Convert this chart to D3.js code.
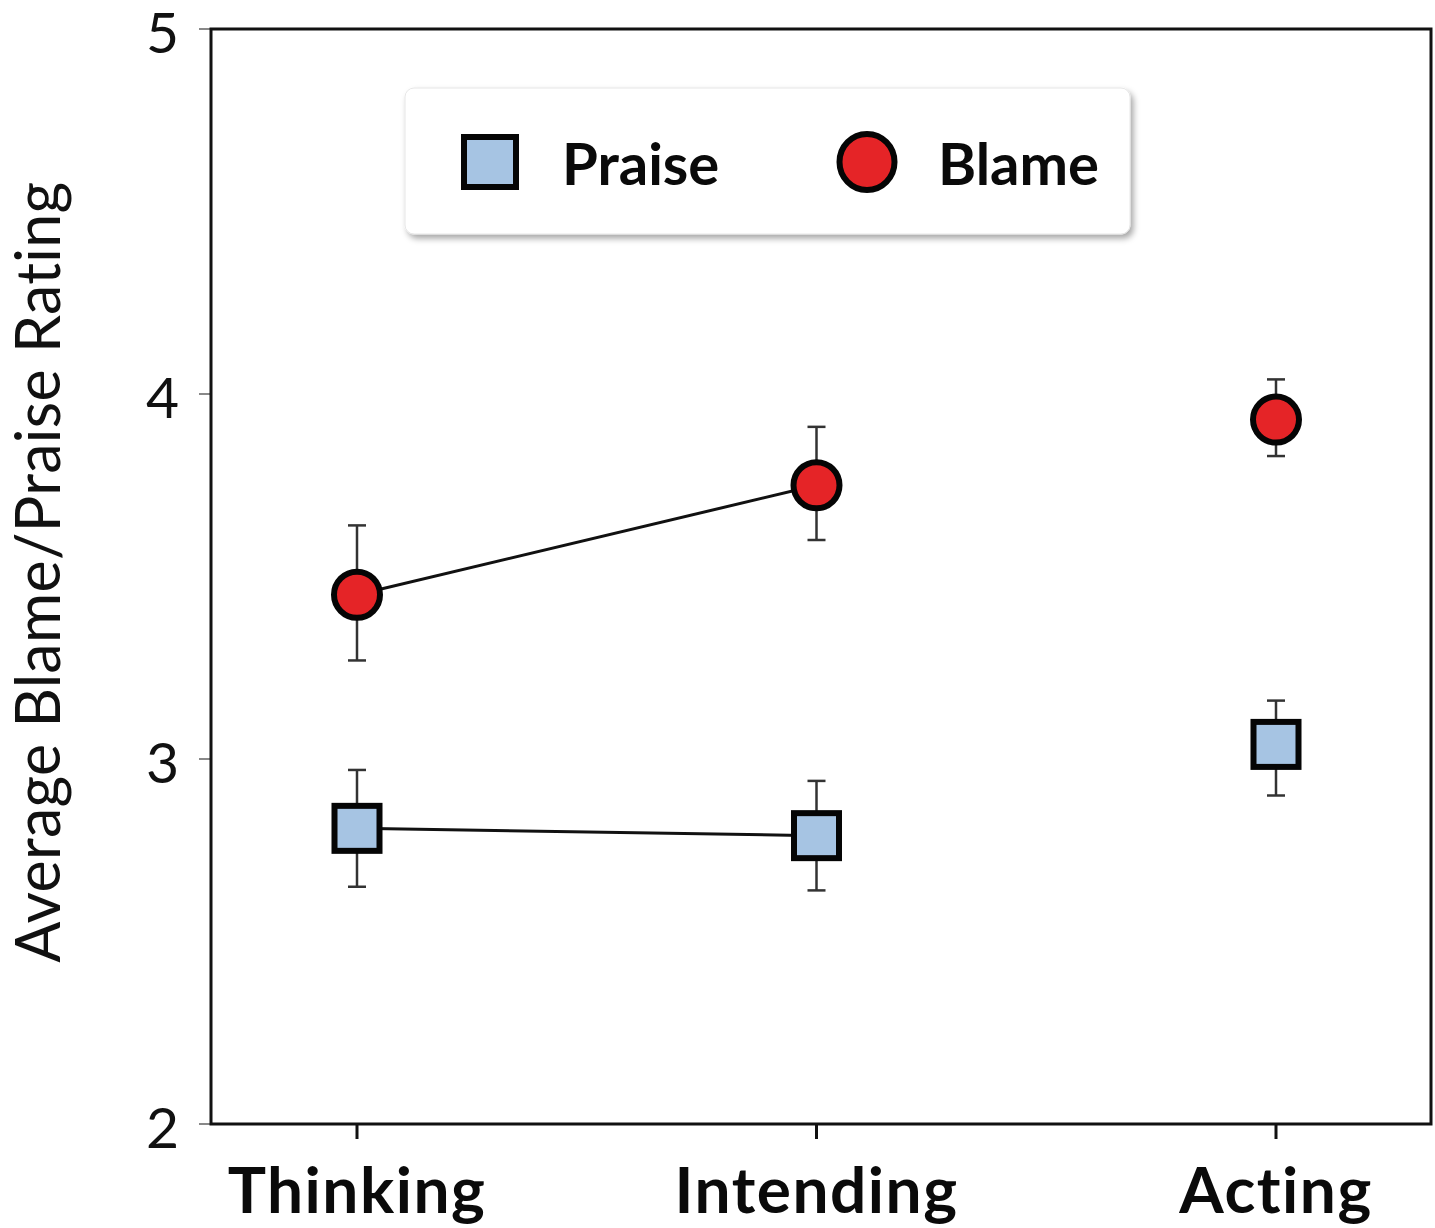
<!DOCTYPE html>
<html>
<head>
<meta charset="utf-8">
<script src="https://cdn.jsdelivr.net/npm/d3@7/dist/d3.min.js"></script>
<style>
  html, body { margin: 0; padding: 0; background: #fff; }
  svg { display: block; }
</style>
</head>
<body>
<svg id="chart" width="1435" height="1228"></svg>
<script>
// Stages of moral action
const categories = ["Thinking", "Intending", "Acting"];

// Mean ratings per stage
const praiseMean = [2.81, 2.79, 3.04];
const blameMean  = [3.45, 3.75, 3.93];

// Error bar bounds (lower, upper)
const praiseLow  = [2.65, 2.64, 2.90];
const praiseHigh = [2.97, 2.94, 3.16];
const blameLow   = [3.27, 3.60, 3.83];
const blameHigh  = [3.64, 3.91, 4.04];

// Which consecutive stages are joined by a line
const connected = ["Thinking", "Intending"];

const yTicks = [2, 3, 4, 5];
const seriesNames = ["Praise", "Blame"];

const svg = d3.select("#chart");
const plot = { left: 211, right: 1431, top: 29, bottom: 1124 };

const x = d3.scalePoint()
  .domain(categories)
  .range([357, 1276]);

const y = d3.scaleLinear()
  .domain([2, 5])
  .range([plot.bottom, plot.top]);

const labelFont = "Lato, 'Open Sans', sans-serif";

// Y axis ticks (thin gray) and labels
const yAxis = svg.append("g");
yAxis.selectAll("line").data(yTicks).join("line")
  .attr("x1", plot.left - 12).attr("x2", plot.left)
  .attr("y1", d => y(d)).attr("y2", d => y(d))
  .attr("stroke", "#888").attr("stroke-width", 2);
yAxis.selectAll("text").data(yTicks).join("text")
  .attr("x", 179)
  .attr("y", d => y(d))
  .attr("dy", "0.42em")
  .attr("text-anchor", "end")
  .attr("font-family", labelFont)
  .attr("font-size", 57)
  .attr("fill", "#111")
  .text(d => d);

// X axis ticks and category labels
const xAxis = svg.append("g");
xAxis.selectAll("line").data(categories).join("line")
  .attr("x1", d => x(d)).attr("x2", d => x(d))
  .attr("y1", plot.bottom).attr("y2", plot.bottom + 15)
  .attr("stroke", "#111").attr("stroke-width", 3);
xAxis.selectAll("text").data(categories).join("text")
  .attr("x", d => x(d))
  .attr("y", 1213)
  .attr("text-anchor", "middle")
  .attr("font-family", labelFont)
  .attr("font-weight", 700)
  .attr("font-size", 64)
  .attr("letter-spacing", 1.5)
  .attr("fill", "#0a0a0a")
  .text(d => d);

// Plot frame
svg.append("rect")
  .attr("x", plot.left).attr("y", plot.top)
  .attr("width", plot.right - plot.left)
  .attr("height", plot.bottom - plot.top)
  .attr("fill", "none")
  .attr("stroke", "#111")
  .attr("stroke-width", 3);

// Y axis title
svg.append("text")
  .attr("transform", `translate(60, 572) rotate(-90)`)
  .attr("text-anchor", "middle")
  .attr("font-family", labelFont)
  .attr("font-size", 61)
  .attr("letter-spacing", 0.3)
  .attr("fill", "#111")
  .text("Average Blame/Praise Rating");

// Connecting lines
const lineGen = d3.line().x(d => x(d.cat)).y(d => y(d.v));
function seriesPoints(means) {
  return categories.map((c, i) => ({ cat: c, v: means[i] }))
    .filter(d => connected.includes(d.cat));
}
[praiseMean, blameMean].forEach(means => {
  svg.append("path")
    .attr("d", lineGen(seriesPoints(means)))
    .attr("fill", "none")
    .attr("stroke", "#111")
    .attr("stroke-width", 3);
});

// Error bars
function errorBars(low, high) {
  const g = svg.append("g").attr("stroke", "#333").attr("stroke-width", 2.5);
  categories.forEach((c, i) => {
    const cx = x(c);
    g.append("line").attr("x1", cx).attr("x2", cx)
      .attr("y1", y(low[i])).attr("y2", y(high[i]));
    g.append("line").attr("x1", cx - 9).attr("x2", cx + 9)
      .attr("y1", y(low[i])).attr("y2", y(low[i]));
    g.append("line").attr("x1", cx - 9).attr("x2", cx + 9)
      .attr("y1", y(high[i])).attr("y2", y(high[i]));
  });
}
errorBars(praiseLow, praiseHigh);
errorBars(blameLow, blameHigh);

// Praise markers (squares)
const sq = 45;
svg.append("g").selectAll("rect")
  .data(categories.map((c, i) => ({ cat: c, v: praiseMean[i] })))
  .join("rect")
  .attr("x", d => x(d.cat) - sq / 2)
  .attr("y", d => y(d.v) - sq / 2)
  .attr("width", sq).attr("height", sq)
  .attr("fill", "#a6c4e3")
  .attr("stroke", "#050505")
  .attr("stroke-width", 6);

// Blame markers (circles)
svg.append("g").selectAll("circle")
  .data(categories.map((c, i) => ({ cat: c, v: blameMean[i] })))
  .join("circle")
  .attr("cx", d => x(d.cat))
  .attr("cy", d => y(d.v))
  .attr("r", 23)
  .attr("fill", "#e52427")
  .attr("stroke", "#050505")
  .attr("stroke-width", 6);

// Legend
const defs = svg.append("defs");
const shadow = defs.append("filter").attr("id", "legendShadow")
  .attr("x", "-5%").attr("y", "-10%").attr("width", "115%").attr("height", "130%");
shadow.append("feDropShadow")
  .attr("dx", 3).attr("dy", 4).attr("stdDeviation", 3)
  .attr("flood-color", "#000").attr("flood-opacity", 0.35);

const legend = svg.append("g");
legend.append("rect")
  .attr("x", 405).attr("y", 88)
  .attr("width", 725).attr("height", 146)
  .attr("rx", 9).attr("ry", 9)
  .attr("fill", "#fff")
  .attr("stroke", "#e6e6e6")
  .attr("stroke-width", 1)
  .attr("filter", "url(#legendShadow)");

legend.append("rect")
  .attr("x", 464).attr("y", 137)
  .attr("width", 52).attr("height", 50)
  .attr("fill", "#a6c4e3")
  .attr("stroke", "#050505")
  .attr("stroke-width", 6);
legend.append("ellipse")
  .attr("cx", 867).attr("cy", 162)
  .attr("rx", 27.5).attr("ry", 28)
  .attr("fill", "#e52427")
  .attr("stroke", "#050505")
  .attr("stroke-width", 6);

legend.selectAll("text").data(seriesNames).join("text")
  .attr("x", (d, i) => i === 0 ? 562 : 938)
  .attr("y", 185)
  .attr("font-family", labelFont)
  .attr("font-weight", 700)
  .attr("font-size", 58)
  .attr("fill", "#0a0a0a")
  .text(d => d);
</script>
</body>
</html>
